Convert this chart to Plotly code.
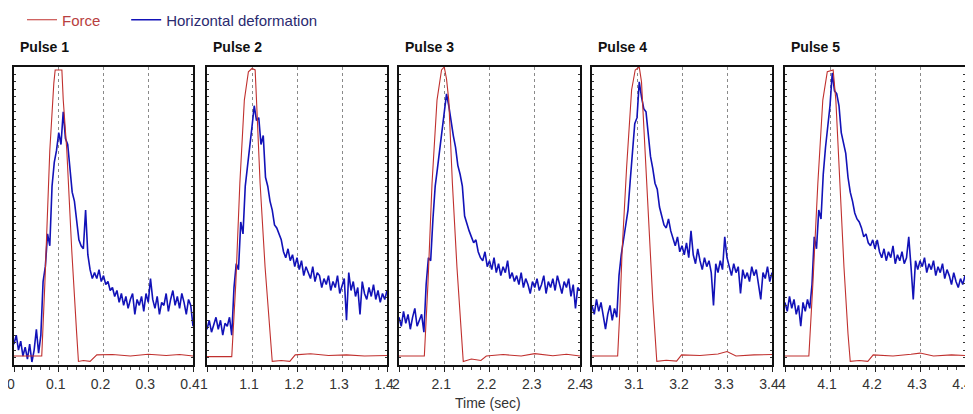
import plotly.graph_objects as go

# ---------------- data ----------------
PULSE_NAMES = ["Pulse 1", "Pulse 2", "Pulse 3", "Pulse 4", "Pulse 5"]
PULSE_STARTS = [0, 1, 2, 3, 4]          # seconds
TICK_OFFSETS = [0, 0.1, 0.2, 0.3, 0.4]   # within a pulse window
TICK_LABELS = [
    ["0", "0.1", "0.2", "0.3", "0.4"],
    ["1", "1.1", "1.2", "1.3", "1.4"],
    ["2", "2.1", "2.2", "2.3", "2.4"],
    ["3", "3.1", "3.2", "3.3", "3.4"],
    ["4", "4.1", "4.2", "4.3", "4.4"],
]
SAMPLE_STEP = 0.005   # deformation sampling interval (s), 81 samples per window

# Force (normalised), local time within each pulse window
force_t1 = [0, 0.062, 0.069, 0.080, 0.089, 0.092, 0.107, 0.110, 0.118, 0.129, 0.140, 0.144, 0.155, 0.170, 0.185, 0.22, 0.26, 0.30, 0.34, 0.37, 0.40]
force_v1 = [0.030, 0.030, 0.275, 0.72, 0.946, 0.99, 0.99, 0.89, 0.72, 0.386, 0.107, 0.012, 0.015, 0.012, 0.034, 0.035, 0.030, 0.036, 0.032, 0.035, 0.030]
force_t2 = [0, 0.055, 0.064, 0.073, 0.083, 0.092, 0.100, 0.107, 0.110, 0.118, 0.129, 0.140, 0.145, 0.165, 0.184, 0.196, 0.23, 0.27, 0.31, 0.35, 0.40]
force_v2 = [0.028, 0.028, 0.274, 0.61, 0.889, 0.984, 0.995, 0.99, 0.889, 0.61, 0.33, 0.105, 0.012, 0.015, 0.012, 0.034, 0.038, 0.032, 0.034, 0.030, 0.032]
force_t3 = [0, 0.056, 0.064, 0.073, 0.084, 0.094, 0.100, 0.105, 0.110, 0.118, 0.128, 0.137, 0.142, 0.16, 0.181, 0.193, 0.23, 0.27, 0.30, 0.34, 0.37, 0.40]
force_v3 = [0.030, 0.030, 0.274, 0.61, 0.889, 0.99, 1.0, 0.96, 0.889, 0.61, 0.33, 0.105, 0.012, 0.020, 0.015, 0.030, 0.035, 0.030, 0.038, 0.031, 0.036, 0.030]
force_t4 = [0, 0.057, 0.062, 0.067, 0.077, 0.088, 0.096, 0.105, 0.110, 0.116, 0.125, 0.135, 0.144, 0.165, 0.188, 0.199, 0.24, 0.28, 0.30, 0.32, 0.36, 0.40]
force_v4 = [0.030, 0.030, 0.185, 0.386, 0.665, 0.923, 0.99, 1.0, 0.95, 0.78, 0.50, 0.22, 0.012, 0.016, 0.013, 0.034, 0.032, 0.037, 0.045, 0.030, 0.034, 0.035]
force_t5 = [0, 0.053, 0.062, 0.073, 0.084, 0.094, 0.107, 0.113, 0.122, 0.131, 0.140, 0.145, 0.165, 0.184, 0.196, 0.24, 0.28, 0.30, 0.33, 0.37, 0.40]
force_v5 = [0.030, 0.030, 0.274, 0.61, 0.889, 0.984, 0.99, 0.889, 0.61, 0.33, 0.105, 0.012, 0.015, 0.012, 0.034, 0.030, 0.036, 0.040, 0.030, 0.034, 0.032]

# Horizontal deformation (normalised), sampled every SAMPLE_STEP
deform_1 = [0.07, 0.10, 0.05, 0.08, 0.03, 0.06, 0.02, 0.07, 0.01, 0.05,
            0.12, 0.04, 0.10, 0.28, 0.33, 0.44, 0.40, 0.60, 0.68, 0.72,
            0.78, 0.74, 0.85, 0.76, 0.74, 0.66, 0.58, 0.55, 0.49, 0.42,
            0.40, 0.39, 0.52, 0.37, 0.32, 0.29, 0.31, 0.29, 0.32, 0.28,
            0.30, 0.27, 0.28, 0.25, 0.26, 0.23, 0.25, 0.21, 0.24, 0.20,
            0.23, 0.19, 0.22, 0.24, 0.17, 0.22, 0.20, 0.23, 0.18, 0.24,
            0.21, 0.29, 0.22, 0.19, 0.23, 0.17, 0.21, 0.20, 0.24, 0.18,
            0.22, 0.25, 0.20, 0.23, 0.19, 0.24, 0.21, 0.17, 0.22, 0.20,
            0.13]
deform_2 = [0.12, 0.15, 0.11, 0.14, 0.16, 0.12, 0.15, 0.10, 0.14, 0.13,
            0.16, 0.10, 0.26, 0.34, 0.32, 0.48, 0.44, 0.60, 0.66, 0.73,
            0.80, 0.87, 0.82, 0.83, 0.74, 0.77, 0.63, 0.60, 0.55, 0.52,
            0.47, 0.46, 0.44, 0.42, 0.38, 0.36, 0.39, 0.35, 0.37, 0.33,
            0.36, 0.32, 0.35, 0.30, 0.33, 0.31, 0.29, 0.33, 0.28, 0.31,
            0.30, 0.26, 0.29, 0.27, 0.30, 0.25, 0.28, 0.26, 0.30, 0.24,
            0.27, 0.29, 0.15, 0.31, 0.25, 0.28, 0.23, 0.26, 0.17, 0.28,
            0.24, 0.22, 0.26, 0.23, 0.27, 0.22, 0.25, 0.21, 0.24, 0.22,
            0.25]
deform_3 = [0.16, 0.13, 0.18, 0.14, 0.17, 0.12, 0.16, 0.19, 0.13, 0.15,
            0.17, 0.11, 0.27, 0.36, 0.35, 0.49, 0.60, 0.66, 0.72, 0.77,
            0.85, 0.91, 0.87, 0.81, 0.77, 0.73, 0.67, 0.64, 0.60, 0.50,
            0.47, 0.45, 0.43, 0.41, 0.42, 0.38, 0.36, 0.35, 0.38, 0.33,
            0.35, 0.32, 0.36, 0.31, 0.34, 0.30, 0.33, 0.31, 0.35, 0.29,
            0.31, 0.28, 0.30, 0.27, 0.31, 0.26, 0.29, 0.27, 0.24, 0.28,
            0.26, 0.29, 0.25, 0.27, 0.30, 0.24, 0.28, 0.26, 0.29, 0.25,
            0.30, 0.27, 0.24, 0.28, 0.26, 0.29, 0.23, 0.27, 0.19, 0.26,
            0.25]
deform_4 = [0.20, 0.17, 0.22, 0.18, 0.21, 0.16, 0.12, 0.17, 0.20, 0.15,
            0.19, 0.16, 0.30, 0.37, 0.42, 0.48, 0.52, 0.62, 0.72, 0.81,
            0.83, 0.95, 0.90, 0.86, 0.85, 0.78, 0.70, 0.66, 0.61, 0.59,
            0.53, 0.50, 0.47, 0.46, 0.49, 0.45, 0.42, 0.40, 0.43, 0.38,
            0.40, 0.37, 0.41, 0.36, 0.45, 0.37, 0.34, 0.39, 0.35, 0.32,
            0.36, 0.33, 0.35, 0.31, 0.20, 0.34, 0.31, 0.35, 0.32, 0.43,
            0.36, 0.33, 0.30, 0.34, 0.31, 0.33, 0.24, 0.32, 0.29, 0.31,
            0.28, 0.33, 0.30, 0.32, 0.27, 0.22, 0.31, 0.29, 0.33, 0.28,
            0.31]
deform_5 = [0.21, 0.18, 0.23, 0.19, 0.22, 0.17, 0.20, 0.13, 0.21, 0.18,
            0.22, 0.19, 0.27, 0.43, 0.39, 0.52, 0.49, 0.64, 0.73, 0.80,
            0.87, 0.98, 0.92, 0.91, 0.87, 0.78, 0.74, 0.71, 0.63, 0.58,
            0.55, 0.51, 0.49, 0.48, 0.46, 0.43, 0.44, 0.41, 0.40, 0.42,
            0.39, 0.42, 0.38, 0.36, 0.39, 0.35, 0.38, 0.36, 0.40, 0.34,
            0.37, 0.35, 0.38, 0.34, 0.36, 0.43, 0.33, 0.22, 0.35, 0.32,
            0.35, 0.33, 0.36, 0.31, 0.34, 0.32, 0.35, 0.30, 0.33, 0.31,
            0.34, 0.29, 0.32, 0.30, 0.27, 0.31, 0.28, 0.26, 0.29, 0.27,
            0.30]

FORCE_T = [force_t1, force_t2, force_t3, force_t4, force_t5]
FORCE_V = [force_v1, force_v2, force_v3, force_v4, force_v5]
DEFORM_V = [deform_1, deform_2, deform_3, deform_4, deform_5]

# ---------------- styling ----------------
FORCE_COLOR = "#c0302e"
DEFORM_COLOR = "#1212b8"
FONT = "Liberation Sans, Arial, sans-serif"

# the page body adds an 8px margin, so the figure is offset accordingly
OFF = 8
W, H = 973 - OFF, 414 - OFF
BOX_L, BOX_R, BOX_T, BOX_B = 14 - OFF, 965 - OFF, 67 - OFF, 365 - OFF
ML, MR, MT, MB = BOX_L, W - BOX_R, BOX_T, H - BOX_B
plot_w = W - ML - MR
plot_h = H - MT - MB
PANEL_PX = [(14, 193), (207, 387), (399, 580), (592, 772), (785, 965)]
domains = [[(a - OFF - ML) / plot_w, min(1.0, (b - OFF - ML) / plot_w)] for a, b in PANEL_PX]

fig = go.Figure()

for k in range(5):
    xa = "x" if k == 0 else f"x{k+1}"
    ya = "y" if k == 0 else f"y{k+1}"
    start = PULSE_STARTS[k]
    ft = [start + t for t in FORCE_T[k]]
    dt = [start + i * SAMPLE_STEP for i in range(len(DEFORM_V[k]))]
    fig.add_trace(go.Scatter(
        x=dt, y=DEFORM_V[k], mode="lines", xaxis=xa, yaxis=ya,
        line=dict(color=DEFORM_COLOR, width=1.6),
        name="<span style='color:#2a2a70'>Horizontal deformation</span>",
        legendrank=2, showlegend=(k == 0), hoverinfo="skip"))
    fig.add_trace(go.Scatter(
        x=ft, y=FORCE_V[k], mode="lines", xaxis=xa, yaxis=ya,
        line=dict(color=FORCE_COLOR, width=1.1),
        name="<span style='color:#b84040'>Force</span>" + "&nbsp;" * 5,
        legendrank=1, showlegend=(k == 0), hoverinfo="skip"))

layout = dict(
    width=W, height=H,
    margin=dict(l=ML, r=MR, t=MT, b=MB, autoexpand=False),
    paper_bgcolor="white", plot_bgcolor="white",
    font=dict(family=FONT, size=14, color="#333333"),
    showlegend=True,
    legend=dict(orientation="h", xref="container", yref="container",
                x=14 / W, y=1 - 12 / H, xanchor="left", yanchor="middle",
                font=dict(size=15, family=FONT), itemwidth=30,
                bgcolor="rgba(0,0,0,0)", traceorder="normal"),
)

annotations = []
for k in range(5):
    sfx = "" if k == 0 else str(k + 1)
    start = PULSE_STARTS[k]
    layout["xaxis" + sfx] = dict(
        domain=domains[k], range=[start, start + 0.4], anchor="y" + sfx,
        tickvals=[start + o for o in TICK_OFFSETS], ticktext=TICK_LABELS[k],
        ticks="outside", ticklen=5, tickwidth=1, tickcolor="#222",
        minor=dict(dtick=0.02, tick0=start, ticks="outside", ticklen=3, tickcolor="#444", showgrid=False),
        showline=True, linecolor="#111", linewidth=1.5, mirror=True,
        showgrid=True, gridcolor="#8a8a8a", griddash="3px,3px", gridwidth=1,
        zeroline=False, tickfont=dict(size=14, color="#333"), ticklabeloverflow="allow",
        ticklabelshift=-3,
    )
    layout["yaxis" + sfx] = dict(
        domain=[0, 1], range=[0, 1.0], anchor="x" + sfx,
        showticklabels=False, ticks="inside", ticklen=2, dtick=0.025, tickcolor="#333",
        showline=True, linecolor="#111", linewidth=1.5, mirror="ticks",
        showgrid=False, zeroline=False,
    )
    annotations.append(dict(
        text="<b>" + PULSE_NAMES[k] + "</b>", xref=f"x{sfx} domain", yref="paper",
        x=0.02, y=1 + 20 / plot_h, xanchor="left", yanchor="middle", showarrow=False,
        font=dict(size=14, color="#111", family=FONT)))

annotations.append(dict(
    text="Time (sec)", xref="paper", yref="paper", x=(488 - OFF - ML) / plot_w, y=-38 / plot_h,
    xanchor="center", yanchor="middle", showarrow=False,
    font=dict(size=14, color="#333", family=FONT)))
layout["annotations"] = annotations

fig.update_layout(**layout)
fig.write_html("out.html")
